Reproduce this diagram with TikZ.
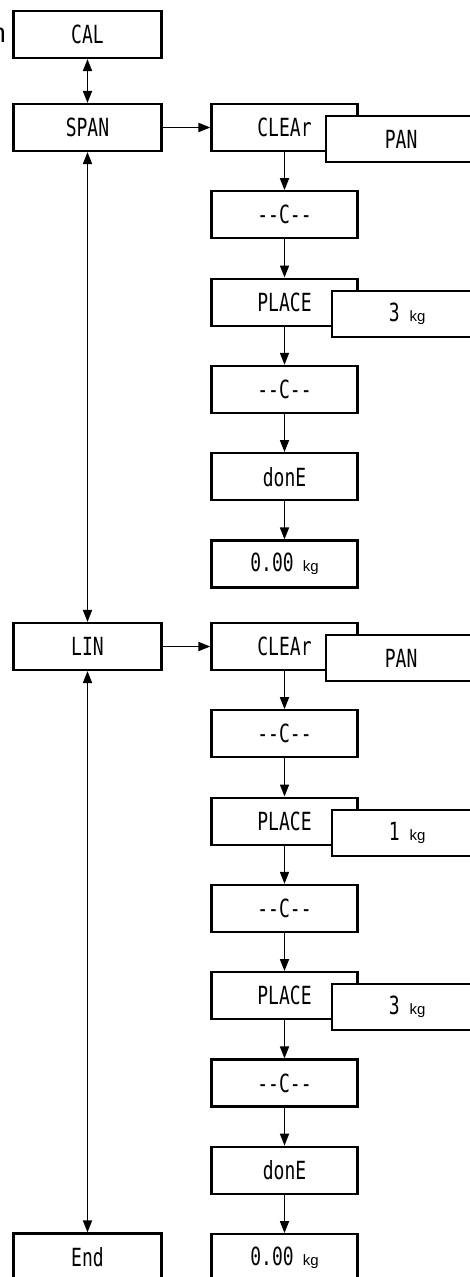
\documentclass[tikz,border=0pt]{standalone}
\usepackage{fontspec}
\setmainfont{Liberation Sans}
\newfontfamily\segfont{DejaVu Sans Mono}
\usetikzlibrary{arrows.meta}
\newcommand\lcd[1]{\scalebox{0.72}[1]{\segfont\fontsize{25}{25}\selectfont #1}}
\newcommand\kgu{{\fontsize{15}{15}\selectfont kg}}
\begin{document}
\begin{tikzpicture}[x=1pt,y=-1pt,
 box/.style={draw,line width=2.2pt,fill=white,minimum height=47pt,inner sep=0pt},
 lbox/.style={box,minimum width=148pt},
 rbox/.style={box,minimum width=146pt},
 sbox/.style={box,minimum height=46pt,minimum width=150pt,anchor=west},
 conn/.style={line width=1.7pt,-{Triangle[length=12pt,width=9pt]}},
 dconn/.style={line width=1.7pt,{Triangle[length=12pt,width=9pt]}-{Triangle[length=12pt,width=9pt]}}]
\useasboundingbox (0,0) rectangle (469,1277);

% stray letter at left edge (cut off in the reference as well)
\node[anchor=base east,inner sep=0pt,font=\fontsize{27}{27}\selectfont] (cut) at (6,42) {n};

% left column
\node[lbox] (cal)  at (87.5,34.5) {\lcd{CAL}};
\node[lbox] (span) at (87.5,127.5) {\lcd{SPAN}};
\node[lbox] (lin)  at (87.5,646.5) {\lcd{LIN}};
\node[lbox] (end)  at (87.5,1257) {\lcd{End}};

% span section
\node[rbox] (s1) at (284.5,127.5) {\lcd{CLEAr}};
\node[sbox] (s1b) at (325,139) {\lcd{PAN}};
\node[rbox] (s2) at (284.5,214.8) {\lcd{--C--}};
\node[rbox] (s3) at (284.5,302.1) {\lcd{PLACE}};
\node[sbox] (s3b) at (331,313.6) {\lcd{3}\hspace{10pt}\kgu};
\node[rbox] (s4) at (284.5,389.4) {\lcd{--C--}};
\node[rbox] (s5) at (284.5,476.7) {\lcd{donE}};
\node[rbox] (s6) at (284.5,564) {\lcd{0.00}\hspace{9pt}\kgu};

% lin section
\node[rbox] (l1) at (284.5,646.5) {\lcd{CLEAr}};
\node[sbox] (l1b) at (325,658) {\lcd{PAN}};
\node[rbox] (l2) at (284.5,733.8) {\lcd{--C--}};
\node[rbox] (l3) at (284.5,821.1) {\lcd{PLACE}};
\node[sbox] (l3b) at (331,832.6) {\lcd{1}\hspace{10pt}\kgu};
\node[rbox] (l4) at (284.5,908.4) {\lcd{--C--}};
\node[rbox] (l5) at (284.5,995.7) {\lcd{PLACE}};
\node[sbox] (l5b) at (331,1007.2) {\lcd{3}\hspace{10pt}\kgu};
\node[rbox] (l6) at (284.5,1083) {\lcd{--C--}};
\node[rbox] (l7) at (284.5,1170.3) {\lcd{donE}};
\node[rbox] (l8) at (284.5,1257.6) {\lcd{0.00}\hspace{9pt}\kgu};

% connectors
\draw[dconn] (cal) -- (span);
\draw[dconn] (span) -- (lin);
\draw[dconn] (lin) -- (end);
\draw[conn] (span) -- (s1);
\draw[conn] (lin) -- (l1);
\draw[conn] (s1) -- (s2);
\draw[conn] (s2) -- (s3);
\draw[conn] (s3) -- (s4);
\draw[conn] (s4) -- (s5);
\draw[conn] (s5) -- (s6);
\draw[conn] (l1) -- (l2);
\draw[conn] (l2) -- (l3);
\draw[conn] (l3) -- (l4);
\draw[conn] (l4) -- (l5);
\draw[conn] (l5) -- (l6);
\draw[conn] (l6) -- (l7);
\draw[conn] (l7) -- (l8);
\end{tikzpicture}
\end{document}
